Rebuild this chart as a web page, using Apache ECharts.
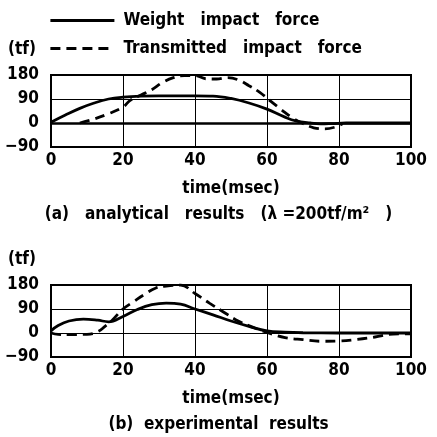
<!DOCTYPE html>
<html>
<head>
<meta charset="utf-8">
<script src="https://cdn.jsdelivr.net/npm/echarts@6/dist/echarts.min.js"></script>
<style>
  html, body { margin: 0; padding: 0; background: #fff; }
  #main { width: 437px; height: 437px; }
</style>
</head>
<body>
<div id="main"></div>
<script>
// (a) analytical results
const timeWeightA = [0, 4, 8, 12, 16, 20, 25, 30, 35, 40, 45, 50, 55, 60, 65, 68, 72, 75, 78, 82, 90, 100];
const weightA = [3, 30, 55, 75, 90, 97, 101, 102, 102, 102, 101, 92, 75, 52, 22, 8, 0, -3, -2, 0, 0, 0];
const timeTransA = [8, 12, 16, 20, 22, 25, 28, 31, 34, 37, 40, 43, 46, 49, 52, 55, 58, 61, 64, 67, 70, 73, 76, 79, 81];
const transA = [0, 15, 35, 60, 85, 105, 125, 152, 170, 178, 178, 166, 165, 170, 162, 140, 115, 82, 50, 20, -2, -18, -22, -15, -3];

// (b) experimental results
const timeWeightB = [0, 2, 5, 9, 13, 16, 20, 24, 28, 32, 36, 40, 45, 50, 55, 60, 65, 70, 80, 90, 100];
const weightB = [8, 28, 45, 52, 48, 42, 62, 88, 106, 112, 108, 90, 68, 45, 25, 8, 3, 1, 0, 0, 0];
const timeTransB = [0, 2, 5, 10, 13, 15, 17, 20, 23, 26, 29, 32, 36, 40, 44, 48, 52, 56, 60, 65, 70, 75, 80, 85, 90, 95, 100];
const transB = [0, -5, -6, -5, 5, 25, 48, 90, 118, 145, 168, 176, 180, 148, 112, 78, 45, 22, 2, -17, -25, -31, -30, -24, -15, -4, -3];

const yTicks = [-90, 0, 90, 180];
const seriesNames = ['Weight   impact   force', 'Transmitted   impact   force'];

const FONT = 'DejaVu Sans Condensed';
const pair = (xs, ys) => xs.map((x, i) => [x, ys[i]]);

const chart = echarts.init(document.getElementById('main'));

const gridBox = { left: 51, width: 360, height: 72, show: true, borderColor: '#000', borderWidth: 2, containLabel: false };

const xAxisBase = {
  type: 'value', min: 0, max: 100, interval: 20,
  axisLine: { show: false }, axisTick: { show: false },
  splitLine: { show: true, lineStyle: { color: '#000', width: 1 } },
  axisLabel: { color: '#000', fontFamily: FONT, fontWeight: 'bold', fontSize: 17, margin: 5 },
  name: 'time(msec)', nameLocation: 'middle', nameGap: 33,
  nameTextStyle: { color: '#000', fontFamily: FONT, fontWeight: 'bold', fontSize: 17 }
};
const yAxisBase = {
  type: 'value', min: yTicks[0], max: yTicks[yTicks.length - 1], interval: 90,
  axisLine: { show: false }, axisTick: { show: false },
  splitLine: { show: true, lineStyle: { color: '#000', width: 1 } },
  axisLabel: {
    color: '#000', fontFamily: FONT, fontWeight: 'bold', fontSize: 17, margin: 12,
    formatter: v => String(v).replace('-', '\u2212')
  }
};

const solidStyle = { color: '#000', width: 2.8, type: 'solid' };
const dashStyle = { color: '#000', width: 2.8, type: [10, 6] };

const textStyle = { color: '#000', fontFamily: FONT, fontWeight: 'bold', fontSize: 17 };

const option = {
  backgroundColor: '#fff',
  animation: false,
  color: ['#000', '#000'],
  title: [
    { text: '(tf)', left: 3, top: 36, textStyle },
    { text: '(a)   analytical   results   (\u03bb =200tf/m\u00b2   )', left: 'center', top: 201, textStyle },
    { text: '(tf)', left: 3, top: 246, textStyle },
    { text: '(b)  experimental  results', left: 'center', top: 411, textStyle }
  ],
  legend: {
    orient: 'vertical', left: 44, top: 7, itemGap: 11,
    itemWidth: 64, itemHeight: 16,
    data: seriesNames,
    itemStyle: { opacity: 0 },
    lineStyle: { width: 2.8 },
    textStyle: { color: '#000', fontFamily: FONT, fontWeight: 'bold', fontSize: 17, padding: [0, 0, 0, 4] }
  },
  grid: [
    Object.assign({ top: 75 }, gridBox),
    Object.assign({ top: 285 }, gridBox)
  ],
  xAxis: [
    Object.assign({ gridIndex: 0 }, xAxisBase),
    Object.assign({ gridIndex: 1 }, xAxisBase)
  ],
  yAxis: [
    Object.assign({ gridIndex: 0 }, yAxisBase),
    Object.assign({ gridIndex: 1 }, yAxisBase)
  ],
  series: [
    {
      name: seriesNames[0], type: 'line', xAxisIndex: 0, yAxisIndex: 0,
      data: pair(timeWeightA, weightA), smooth: 0.4, symbol: 'none', lineStyle: solidStyle,
      markLine: { silent: true, symbol: 'none', label: { show: false },
        lineStyle: { color: '#000', width: 2.5, type: 'solid' }, data: [{ yAxis: 0 }] }
    },
    {
      name: seriesNames[1], type: 'line', xAxisIndex: 0, yAxisIndex: 0,
      data: pair(timeTransA, transA), smooth: 0.4, symbol: 'none', lineStyle: dashStyle
    },
    {
      name: seriesNames[0], type: 'line', xAxisIndex: 1, yAxisIndex: 1,
      data: pair(timeWeightB, weightB), smooth: 0.4, symbol: 'none', lineStyle: solidStyle
    },
    {
      name: seriesNames[1], type: 'line', xAxisIndex: 1, yAxisIndex: 1,
      data: pair(timeTransB, transB), smooth: 0.4, symbol: 'none', lineStyle: dashStyle
    }
  ]
};

chart.setOption(option);
</script>
</body>
</html>
